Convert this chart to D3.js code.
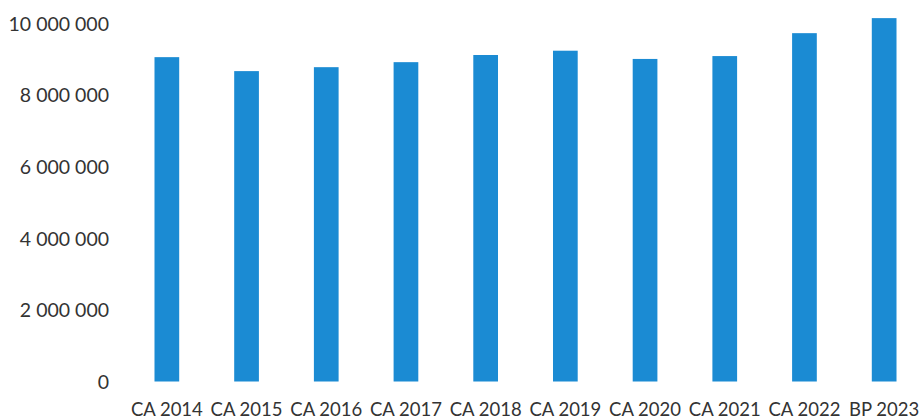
<!DOCTYPE html>
<html>
<head>
<meta charset="utf-8">
<script src="https://cdn.jsdelivr.net/npm/d3@7"></script>
<style>
  html, body { margin: 0; padding: 0; background: #fff; }
  svg text { font-family: Lato, "Open Sans", sans-serif; fill: #333; }
</style>
</head>
<body>
<svg id="chart" width="922" height="419"></svg>
<script>
// Annual amounts: accounts (CA) and budget forecast (BP)
const categories = ["CA 2014", "CA 2015", "CA 2016", "CA 2017", "CA 2018",
                    "CA 2019", "CA 2020", "CA 2021", "CA 2022", "BP 2023"];
const values = [9060000, 8670000, 8780000, 8920000, 9120000,
                9240000, 9010000, 9090000, 9730000, 10150000];
const yTicks = [0, 2000000, 4000000, 6000000, 8000000, 10000000];

const svg = d3.select("#chart");

const x = d3.scaleBand()
  .domain(categories)
  .range([127, 924])
  .paddingInner(0.69)
  .paddingOuter(0.345);

const y = d3.scaleLinear()
  .domain([0, 10000000])
  .range([381.5, 23.5]);

// thousands separated by spaces
const fmt = v => d3.format(",")(v).replace(/,/g, " ");

svg.append("g")
  .selectAll("rect")
  .data(values)
  .join("rect")
  .attr("x", (d, i) => x(categories[i]))
  .attr("width", x.bandwidth())
  .attr("y", d => y(d))
  .attr("height", d => y(0) - y(d))
  .attr("fill", "#1b8bd3");

const yAxis = svg.append("g")
  .attr("transform", "translate(109,0)")
  .call(d3.axisLeft(y).tickValues(yTicks).tickFormat(fmt).tickSize(0).tickPadding(0));
yAxis.select(".domain").remove();
yAxis.selectAll("text").style("font-size", "19.5px").attr("dy", "0.35em");

const xAxis = svg.append("g")
  .attr("transform", "translate(0,381.5)")
  .call(d3.axisBottom(x).tickSize(0).tickPadding(28));
xAxis.select(".domain").remove();
xAxis.selectAll("text").style("font-size", "18.5px").attr("dy", "0.35em");
</script>
</body>
</html>
